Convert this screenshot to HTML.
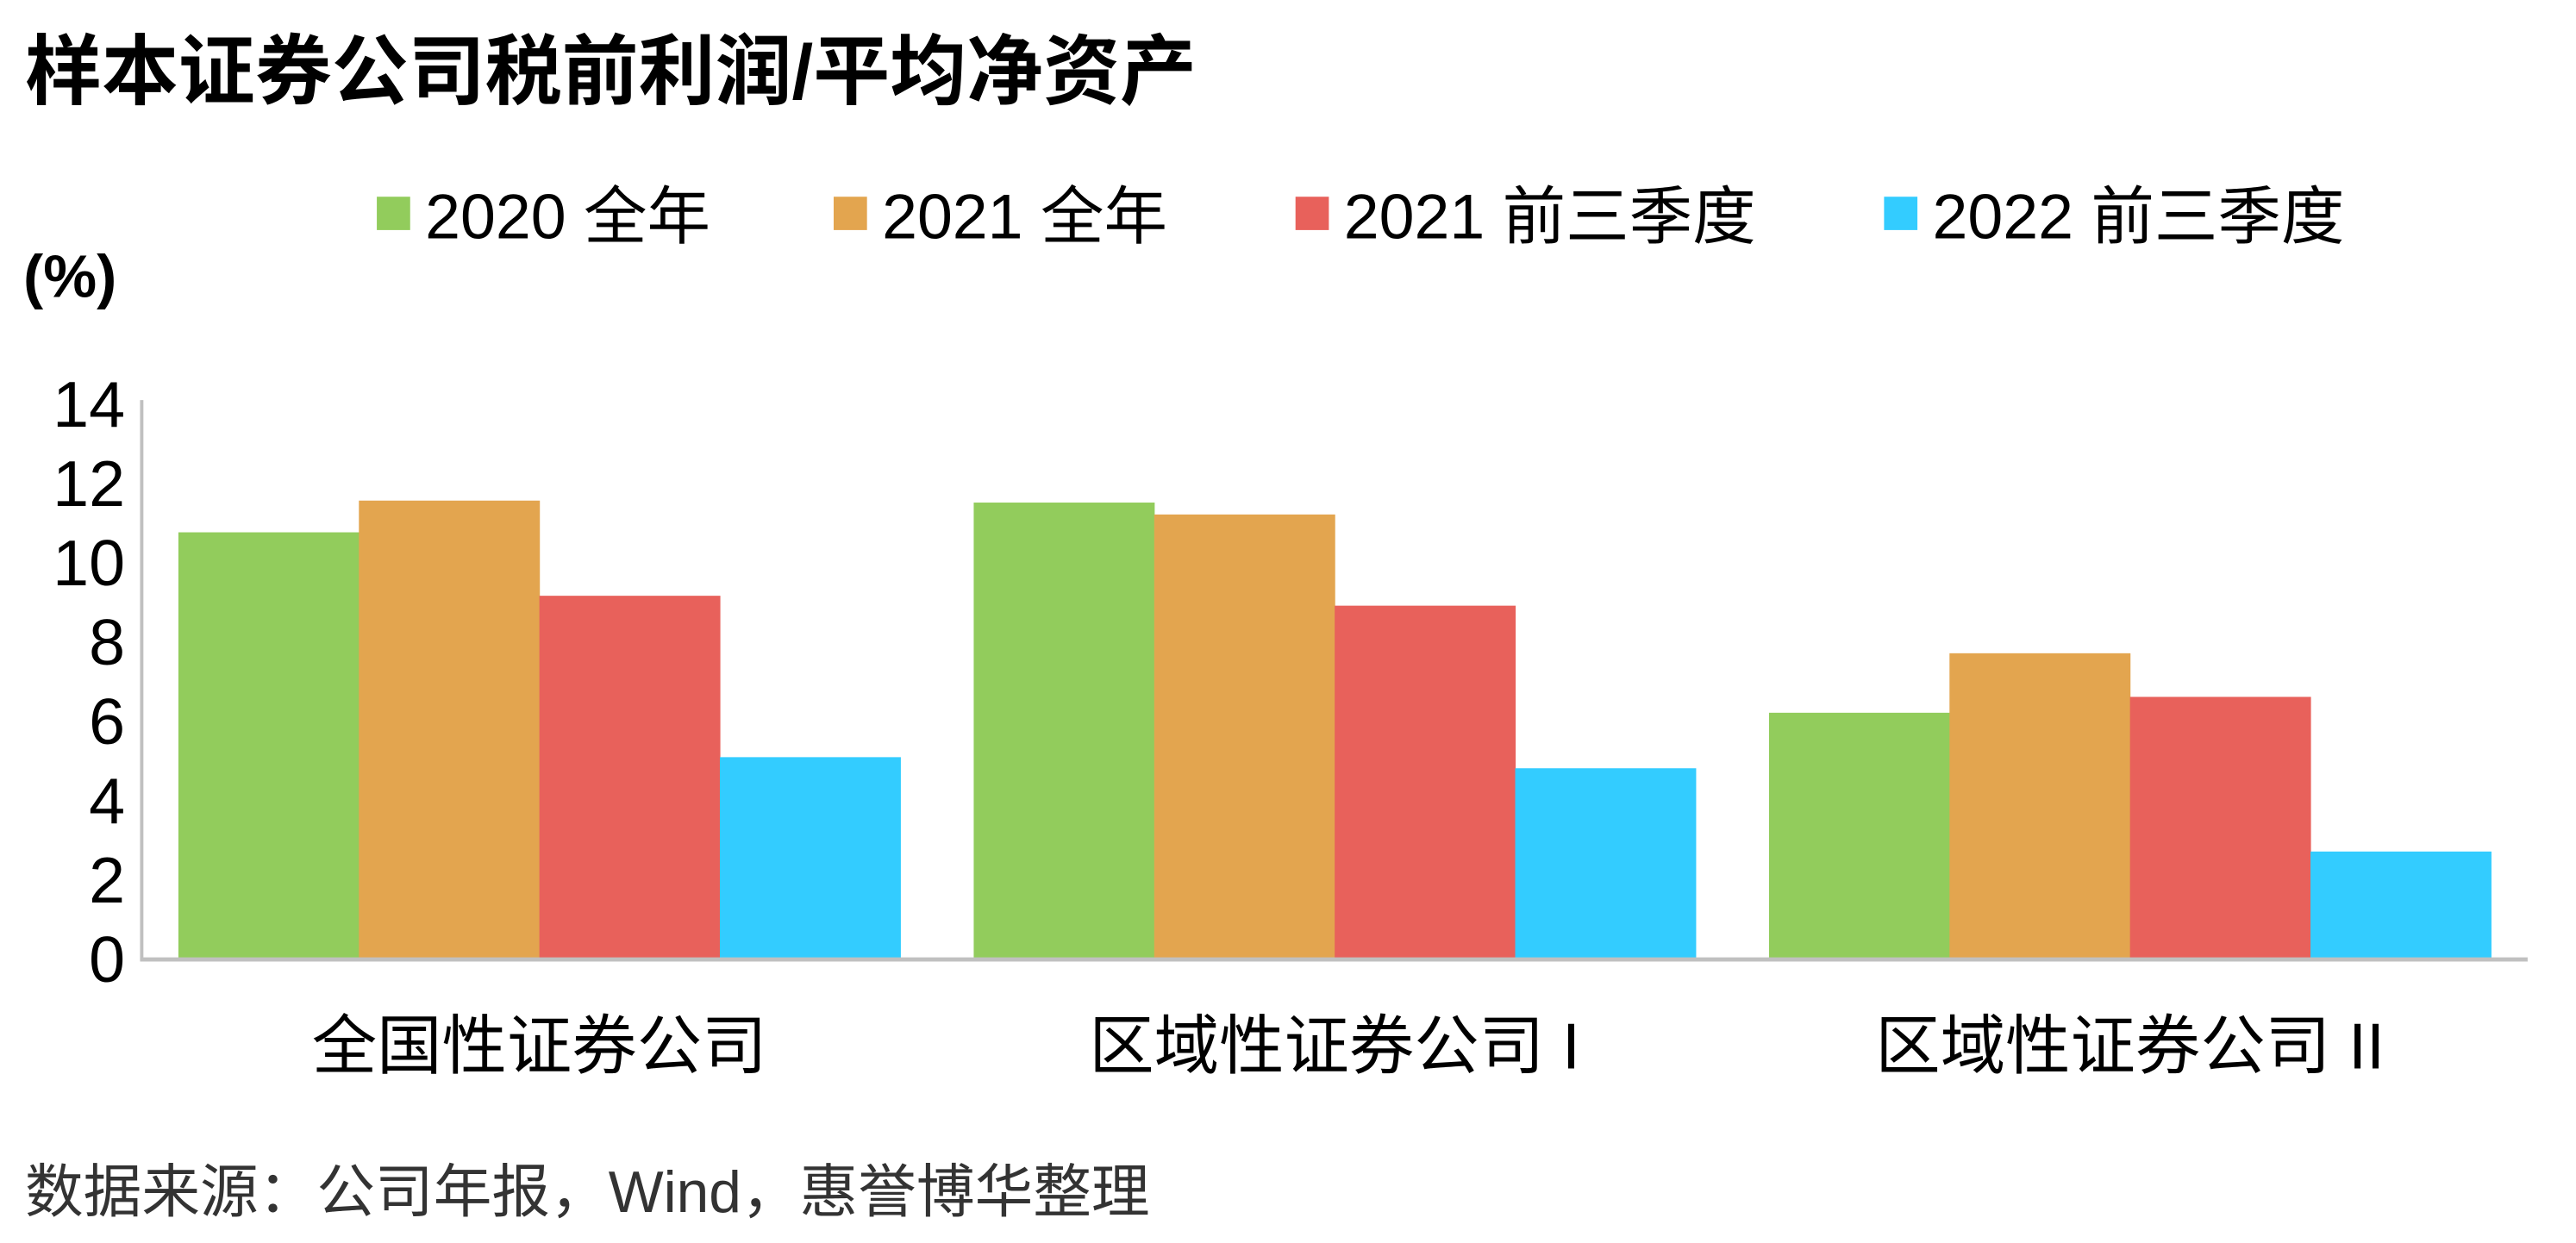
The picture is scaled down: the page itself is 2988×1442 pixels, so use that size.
<!DOCTYPE html>
<html><head><meta charset="utf-8"><style>
html,body{margin:0;padding:0;background:#fff;}
svg{display:block;}
text{font-family:"Liberation Sans","Noto Sans CJK SC",sans-serif;}
</style></head><body>
<svg id="chart" width="2988" height="1442" viewBox="0 0 1545 745.6" preserveAspectRatio="none" xmlns="http://www.w3.org/2000/svg">
<text x="15" y="59" font-size="46" font-weight="bold" fill="#000">样本证券公司税前利润/平均净资产</text>
<g id="legend"></g>
<text x="14" y="178" font-size="36" font-weight="bold" fill="#000">(%)</text>
<g id="yticks"></g>
<g id="bars"></g>
<line x1="85" y1="240" x2="85" y2="576" stroke="#c0c0c0" stroke-width="2"/>
<line x1="84" y1="575.5" x2="1516" y2="575.5" stroke="#c0c0c0" stroke-width="2.5"/>
<g id="xlabels"></g>
<text x="15" y="727" font-size="35" fill="#333">数据来源：公司年报，Wind，惠誉博华整理</text>
</svg>
<script>
const categories = ["全国性证券公司", "区域性证券公司 I", "区域性证券公司 II"];
const seriesNames = ["2020 全年", "2021 全年", "2021 前三季度", "2022 前三季度"];
const s2020 = [10.75, 11.5, 6.2];
const s2021 = [11.55, 11.2, 7.7];
const s2021q3 = [9.15, 8.9, 6.6];
const s2022q3 = [5.08, 4.8, 2.7];
const yTicks = [0, 2, 4, 6, 8, 10, 12, 14];

const series = [s2020, s2021, s2021q3, s2022q3];
const colors = ["#92cc5c", "#e3a54f", "#e8615b", "#33ccff"];
const NS = "http://www.w3.org/2000/svg";
const plotL = 85, plotR = 1516, y0 = 575, yTop = 242, yMax = 14;
const yScale = v => y0 - (v / yMax) * (y0 - yTop);
const catW = (plotR - plotL) / categories.length;
const groupPad = 22;
const barW = (catW - 2 * groupPad) / series.length;
const xBand = i => plotL + i * catW;

const yt = document.getElementById('yticks');
yTicks.forEach(t => {
  const el = document.createElementNS(NS, 'text');
  
  
  el.setAttribute('x', 75);
  el.setAttribute('y', yScale(t) + 14);
  el.setAttribute('text-anchor', 'end');
  el.setAttribute('font-size', '39');
  el.textContent = t;
  yt.appendChild(el);
});

const bg = document.getElementById('bars');
series.forEach((s, si) => {
  s.forEach((v, ci) => {
    const r = document.createElementNS(NS, 'rect');
    
    
    r.setAttribute('x', xBand(ci) + groupPad + si * barW);
    r.setAttribute('y', yScale(v));
    r.setAttribute('width', barW + 0.3);
    r.setAttribute('height', y0 - yScale(v));
    r.setAttribute('fill', colors[si]);
    bg.appendChild(r);
  });
});

const xl = document.getElementById('xlabels');
categories.forEach((c, i) => {
  const el = document.createElementNS(NS, 'text');
  
  
  el.setAttribute('x', xBand(i) + catW / 2);
  el.setAttribute('y', 641);
  el.setAttribute('text-anchor', 'middle');
  el.setAttribute('font-size', '39');
  el.textContent = c;
  xl.appendChild(el);
});

const lg = document.getElementById('legend');
const legendX = [226, 500, 777, 1130];
seriesNames.forEach((n, i) => {
  const r = document.createElementNS(NS, 'rect');
  
  
  r.setAttribute('x', legendX[i]);
  r.setAttribute('y', 118);
  r.setAttribute('width', 20);
  r.setAttribute('height', 20);
  r.setAttribute('fill', colors[i]);
  lg.appendChild(r);
  const t = document.createElementNS(NS, 'text');
  
  
  t.setAttribute('x', legendX[i] + 29);
  t.setAttribute('y', 143);
  t.setAttribute('font-size', '38');
  t.textContent = n;
  lg.appendChild(t);
});
</script>
</body></html>
